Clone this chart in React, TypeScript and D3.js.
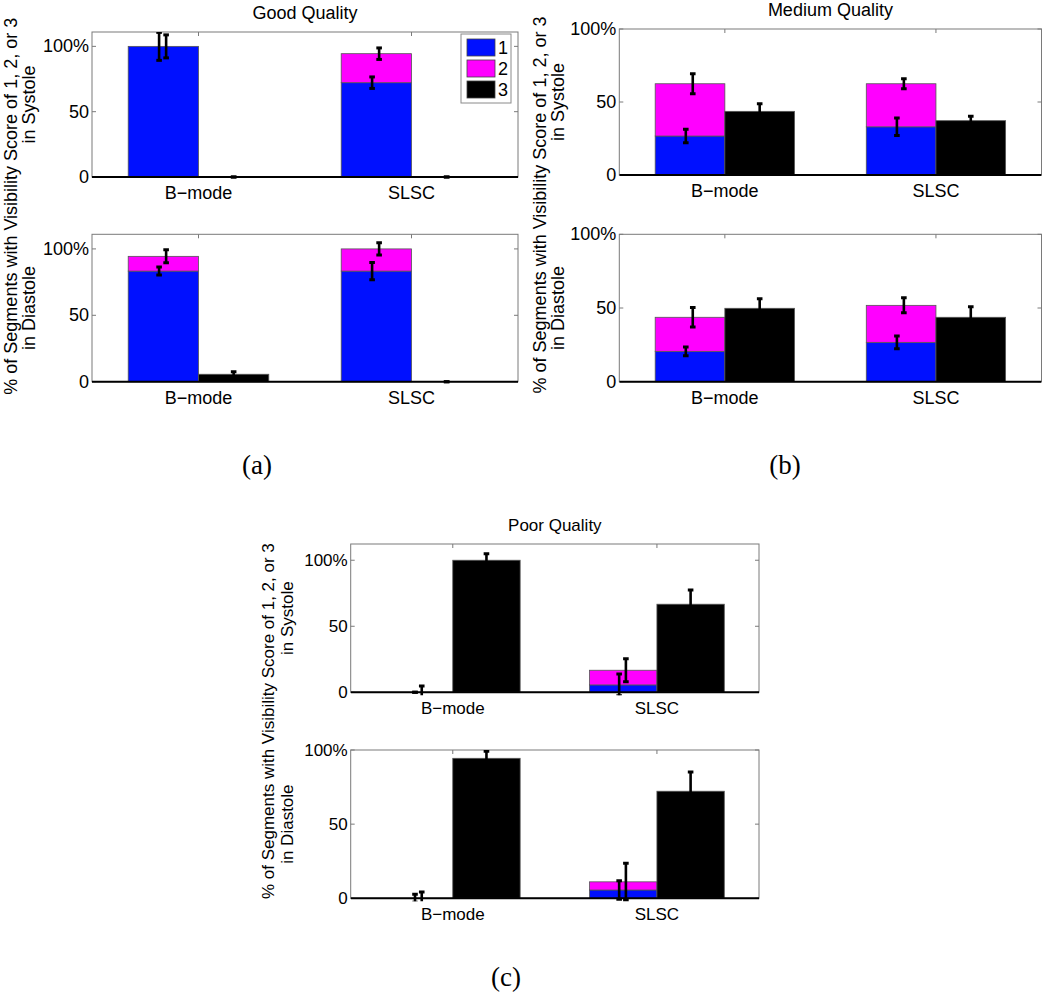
import React from "react";
import * as d3 from "d3";

// ---------- data ----------
const categories = ["B\u2212mode", "SLSC"];
const legendLabels = ["1", "2", "3"];
const yTickValues = [0, 50, 100];
const yTickLabels = ["0", "50", "100%"];
const panelLetters = ["(a)", "(b)", "(c)"];
const titles = ["Good Quality", "Medium Quality", "Poor Quality"];
const rowLabel1 = "% of Segments with Visibility Score of 1, 2, or 3";
const rowLabels2 = ["in Systole", "in Diastole"];

// Good quality – systole
const goodSysS1 = [100, 72.2];
const goodSysS2 = [0, 22.2];
const goodSysS3 = [0, 0];
const goodSysE1 = [10.7, 4.4];
const goodSysE2 = [8.8, 4.4];
const goodSysE3 = [0, 0];
// Good quality – diastole
const goodDiaS1 = [83.3, 83.3];
const goodDiaS2 = [11.1, 16.7];
const goodDiaS3 = [5.6, 0];
const goodDiaE1 = [3, 6.5];
const goodDiaE2 = [4.9, 4.6];
const goodDiaE3 = [1.8, 0];
// Medium quality – systole
const medSysS1 = [26.7, 33];
const medSysS2 = [35.8, 29.5];
const medSysS3 = [43.6, 37.2];
const medSysE1 = [4.6, 6];
const medSysE2 = [6.8, 3.5];
const medSysE3 = [5.2, 3];
// Medium quality – diastole
const medDiaS1 = [20.6, 26.7];
const medDiaS2 = [23.1, 25.1];
const medDiaS3 = [49.8, 43.7];
const medDiaE1 = [3, 4.3];
const medDiaE2 = [6.6, 5.1];
const medDiaE3 = [6.5, 7.2];
// Poor quality – systole
const poorSysS1 = [0, 5.6];
const poorSysS2 = [0, 11.1];
const poorSysS3 = [100, 66.7];
const poorSysE1 = [0, 8.3];
const poorSysE2 = [4.8, 8.8];
const poorSysE3 = [5, 10.8];
// Poor quality – diastole
const poorDiaS1 = [0, 5.6];
const poorDiaS2 = [0, 5.5];
const poorDiaS3 = [94.4, 72.2];
const poorDiaE1 = [2.7, 6.3];
const poorDiaE2 = [4.3, 12.5];
const poorDiaE3 = [4.7, 12.9];

// ---------- style ----------
const BLUE = "#0010ff";
const MAGENTA = "#ff00ff";
const BLACK = "#000000";
const colors = [BLUE, MAGENTA, BLACK];
const FONT = "'Liberation Sans', Arial, Helvetica, sans-serif";
const AX = "#7a7a7a";
const BAR_W = 0.33;
const OFF1 = -0.185;
const OFF2 = -0.152;
const OFF3 = 0.165;

type SubProps = {
  id: string;
  left: number;
  right: number;
  top: number;
  bottom: number;
  yMax: number;
  fs: number;
  s1: number[];
  s2: number[];
  s3: number[];
  e1: number[];
  e2: number[];
  e3: number[];
  title?: string;
  legend?: boolean;
};

function ErrBar({ cx, c, e, y }: { cx: number; c: number; e: number; y: any }) {
  const yt = y(c + e);
  const yb = y(c - e);
  const cw = 2.8;
  return (
    <g stroke={BLACK}>
      <line x1={cx} x2={cx} y1={yt} y2={yb} strokeWidth={2.6} />
      <line x1={cx - cw} x2={cx + cw} y1={yt} y2={yt} strokeWidth={3} />
      <line x1={cx - cw} x2={cx + cw} y1={yb} y2={yb} strokeWidth={3} />
    </g>
  );
}

function Subplot(p: SubProps) {
  const x = d3.scaleLinear().domain([0.5, 2.5]).range([p.left, p.right]);
  const y = d3.scaleLinear().domain([0, p.yMax]).range([p.bottom, p.top]);
  const cats = categories.map((_, i) => i + 1);
  const tk = 4;
  return (
    <g>
      <defs>
        <clipPath id={p.id}>
          <rect x={p.left} y={p.top} width={p.right - p.left} height={p.bottom - p.top + 3} />
        </clipPath>
      </defs>
      <rect x={p.left} y={p.top} width={p.right - p.left} height={p.bottom - p.top} fill="#fff" />
      {/* axes box */}
      <rect x={p.left} y={p.top} width={p.right - p.left} height={p.bottom - p.top} fill="none" stroke={AX} strokeWidth={1} />
      {/* ticks */}
      {yTickValues.map((v) =>
        v <= p.yMax ? (
          <g key={"yt" + v} stroke={AX} strokeWidth={1}>
            <line x1={p.left} x2={p.left + tk} y1={y(v)} y2={y(v)} />
            <line x1={p.right} x2={p.right - tk} y1={y(v)} y2={y(v)} />
          </g>
        ) : null
      )}
      {cats.map((c) => (
        <g key={"xt" + c} stroke={AX} strokeWidth={1}>
          <line x1={x(c)} x2={x(c)} y1={p.top} y2={p.top + tk} />
        </g>
      ))}
      <g clipPath={`url(#${p.id})`}>
        {cats.map((c, i) => {
          const bx0 = x(c - BAR_W);
          const bx1 = x(c);
          const kx1 = x(c + BAR_W);
          return (
            <g key={"b" + i} stroke="#555" strokeWidth={0.8}>
              {p.s1[i] > 0 && (
                <rect x={bx0} width={bx1 - bx0} y={y(p.s1[i])} height={y(0) - y(p.s1[i])} fill={BLUE} />
              )}
              {p.s2[i] > 0 && (
                <rect
                  x={bx0}
                  width={bx1 - bx0}
                  y={y(p.s1[i] + p.s2[i])}
                  height={y(p.s1[i]) - y(p.s1[i] + p.s2[i])}
                  fill={MAGENTA}
                />
              )}
              {p.s3[i] > 0 && (
                <rect x={bx1} width={kx1 - bx1} y={y(p.s3[i])} height={y(0) - y(p.s3[i])} fill={BLACK} />
              )}
            </g>
          );
        })}
        {/* baseline */}
        <line x1={p.left} x2={p.right} y1={y(0)} y2={y(0)} stroke={BLACK} strokeWidth={2} />
        {cats.map((c, i) => (
          <g key={"e" + i}>
            <ErrBar cx={x(c + OFF1)} c={p.s1[i]} e={p.e1[i]} y={y} />
            <ErrBar cx={x(c + OFF2)} c={p.s1[i] + p.s2[i]} e={p.e2[i]} y={y} />
            <ErrBar cx={x(c + OFF3)} c={p.s3[i]} e={p.e3[i]} y={y} />
          </g>
        ))}
      </g>
      {/* tick labels */}
      {yTickValues.map((v, i) => (
        <text
          key={"yl" + v}
          x={p.left - 3}
          y={y(v)}
          textAnchor="end"
          dominantBaseline="central"
          fontSize={p.fs}
          fontFamily={FONT}
        >
          {yTickLabels[i]}
        </text>
      ))}
      {cats.map((c, i) => (
        <text key={"xl" + c} x={x(c)} y={p.bottom + 22} textAnchor="middle" fontSize={p.fs} fontFamily={FONT}>
          {categories[i]}
        </text>
      ))}
      {p.title && (
        <text x={(p.left + p.right) / 2} y={p.top - 13} textAnchor="middle" fontSize={p.fs} fontFamily={FONT}>
          {p.title}
        </text>
      )}
      {p.legend && (
        <g>
          <rect x={p.right - 57} y={p.top + 2} width={50} height={69} fill="#fff" stroke="#8a8a8a" strokeWidth={1} />
          {legendLabels.map((l, i) => (
            <g key={"lg" + i}>
              <rect
                x={p.right - 51}
                y={p.top + 7 + i * 21}
                width={28}
                height={17}
                fill={colors[i]}
                stroke="#444"
                strokeWidth={0.8}
              />
              <text
                x={p.right - 20}
                y={p.top + 7 + i * 21 + 8.5}
                dominantBaseline="central"
                fontSize={p.fs}
                fontFamily={FONT}
              >
                {l}
              </text>
            </g>
          ))}
        </g>
      )}
    </g>
  );
}

type PanelLayout = {
  left: number;
  right: number;
  rows: [number, number, number][]; // top, bottom, yMax
  fs: number;
  label1X: number;
  label2X: number;
  letterX: number;
  letterY: number;
};

const layouts: PanelLayout[] = [
  { left: 92, right: 518, rows: [[32, 177, 111], [234.3, 381.7, 111]], fs: 18, label1X: 11, label2X: 29, letterX: 257, letterY: 465 },
  { left: 619.3, right: 1041.5, rows: [[29, 175, 100], [234.3, 381.7, 100]], fs: 18, label1X: 540, label2X: 558, letterX: 785, letterY: 465 },
  { left: 350.7, right: 759, rows: [[544, 692.3, 112.3], [750, 898.3, 100]], fs: 17, label1X: 268, label2X: 287, letterX: 506, letterY: 977 },
];

const panelData = [
  [
    [goodSysS1, goodSysS2, goodSysS3, goodSysE1, goodSysE2, goodSysE3],
    [goodDiaS1, goodDiaS2, goodDiaS3, goodDiaE1, goodDiaE2, goodDiaE3],
  ],
  [
    [medSysS1, medSysS2, medSysS3, medSysE1, medSysE2, medSysE3],
    [medDiaS1, medDiaS2, medDiaS3, medDiaE1, medDiaE2, medDiaE3],
  ],
  [
    [poorSysS1, poorSysS2, poorSysS3, poorSysE1, poorSysE2, poorSysE3],
    [poorDiaS1, poorDiaS2, poorDiaS3, poorDiaE1, poorDiaE2, poorDiaE3],
  ],
];

export default function App() {
  return (
    <svg
      width={1050}
      height={993}
      viewBox="0 0 1050 993"
      style={{ position: "absolute", left: 0, top: 0, background: "#fff" }}
    >
      <rect x={0} y={0} width={1050} height={993} fill="#fff" />
      {layouts.map((L, pi) => {
        const centers = L.rows.map((r) => (r[0] + r[1]) / 2);
        const midY = (centers[0] + centers[1]) / 2;
        return (
          <g key={"p" + pi}>
            {L.rows.map((r, ri) => {
              const d = panelData[pi][ri];
              return (
                <Subplot
                  key={"s" + ri}
                  id={`clip-${pi}-${ri}`}
                  left={L.left}
                  right={L.right}
                  top={r[0]}
                  bottom={r[1]}
                  yMax={r[2]}
                  fs={L.fs}
                  s1={d[0]}
                  s2={d[1]}
                  s3={d[2]}
                  e1={d[3]}
                  e2={d[4]}
                  e3={d[5]}
                  title={ri === 0 ? titles[pi] : undefined}
                  legend={pi === 0 && ri === 0}
                />
              );
            })}
            <text
              transform={`translate(${L.label1X},${midY}) rotate(-90)`}
              textAnchor="middle"
              dominantBaseline="central"
              fontSize={L.fs}
              fontFamily={FONT}
            >
              {rowLabel1}
            </text>
            {centers.map((cy, ri) => (
              <text
                key={"rl" + ri}
                transform={`translate(${L.label2X},${cy}) rotate(-90)`}
                textAnchor="middle"
                dominantBaseline="central"
                fontSize={L.fs}
                fontFamily={FONT}
              >
                {rowLabels2[ri]}
              </text>
            ))}
            <text
              x={L.letterX}
              y={L.letterY}
              textAnchor="middle"
              dominantBaseline="central"
              fontSize={27}
              fontFamily="'Liberation Serif', 'DejaVu Serif', serif"
            >
              {panelLetters[pi]}
            </text>
          </g>
        );
      })}
    </svg>
  );
}
